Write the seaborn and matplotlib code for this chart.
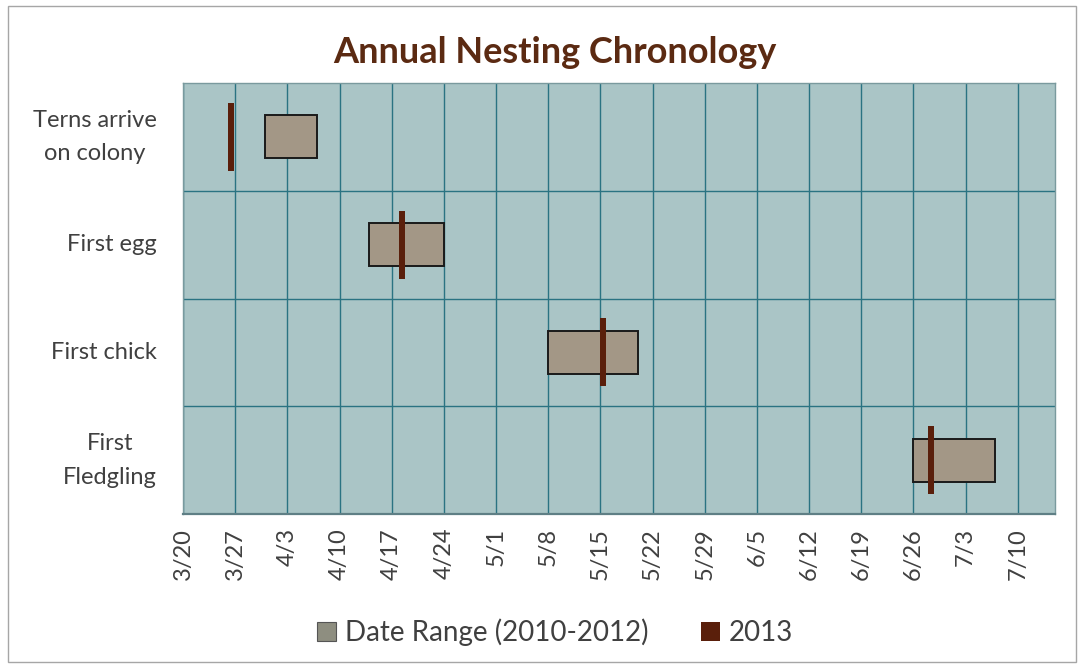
import datetime as dt
import matplotlib
matplotlib.use("Agg")
import matplotlib.pyplot as plt
import matplotlib.dates as mdates
from matplotlib.patches import Rectangle, Patch
import seaborn as sns

# Nesting events (top to bottom)
events = ["Terns arrive\non colony", "First egg", "First chick", "First\nFledgling"]
range_start = ["2013-03-31", "2013-04-14", "2013-05-08", "2013-06-26"]
range_end = ["2013-04-07", "2013-04-24", "2013-05-20", "2013-07-07"]
obs_2013 = ["2013-03-26", "2013-04-18", "2013-05-15", "2013-06-28"]

tick_dates = ["2013-03-20", "2013-03-27", "2013-04-03", "2013-04-10", "2013-04-17",
              "2013-04-24", "2013-05-01", "2013-05-08", "2013-05-15", "2013-05-22",
              "2013-05-29", "2013-06-05", "2013-06-12", "2013-06-19", "2013-06-26",
              "2013-07-03", "2013-07-10"]
x_min, x_max = "2013-03-20", "2013-07-15"

title = "Annual Nesting Chronology"
legend_labels = ["Date Range (2010-2012)", "2013"]


def to_num(s):
    return mdates.date2num(dt.datetime.strptime(s, "%Y-%m-%d"))


sns.set_theme(style="white")
plt.rcParams["font.family"] = ["Lato", "DejaVu Sans"]

BG = "#AAC5C6"
GRID = "#2A7382"
BOX = "#A39786"
MARK = "#5A1F0B"
TEXT = "#404040"

fig = plt.figure(figsize=(10.84, 6.68), dpi=100)
fig.patch.set_facecolor("white")
fig.add_artist(Rectangle((0.0075, 0.009), 0.985, 0.982, transform=fig.transFigure,
                         fill=False, edgecolor="#A6A6A6", linewidth=1.0))

ax = fig.add_axes([0.1688, 0.2305, 0.8045, 0.6452])
ax.set_facecolor(BG)

ypos = list(range(len(events)))
starts = [to_num(s) for s in range_start]
widths = [to_num(e) - to_num(s) for s, e in zip(range_start, range_end)]
marks = [to_num(s) for s in obs_2013]

ax.barh(ypos, widths, left=starts, height=0.40, color=BOX,
        edgecolor="#1A1A1A", linewidth=1.4, zorder=3)
# each 2013 date is drawn as a slim bar spanning most of that day
mark_w = 0.8
ax.barh(ypos, [mark_w] * len(marks), left=marks,
        height=0.63, color=MARK, edgecolor="none", zorder=4)

ax.set_xlim(to_num(x_min), to_num(x_max))
ax.set_ylim(len(events) - 0.5, -0.5)

ticks = [to_num(t) for t in tick_dates]
ax.set_xticks(ticks)
ax.set_xticklabels([f"{int(t[5:7])}/{int(t[8:10])}" for t in tick_dates],
                   rotation=90, fontsize=17, color=TEXT)
ax.set_yticks(ypos)
ax.set_yticklabels(events, fontsize=17, color=TEXT, linespacing=1.75)
for lbl in ax.get_yticklabels():
    lbl.set_multialignment("center")
    lbl.set_verticalalignment("center")
ax.tick_params(axis="y", length=0, pad=19)
ax.tick_params(axis="x", length=0, pad=10)

for t in ticks:
    ax.axvline(t, color=GRID, linewidth=1.0, zorder=1)
for b in [0.5, 1.5, 2.5]:
    ax.axhline(b, color=GRID, linewidth=1.0, zorder=1)
for side in ["left", "right", "top", "bottom"]:
    ax.spines[side].set_visible(True)
    ax.spines[side].set_color("#7A9A9E")
    ax.spines[side].set_linewidth(1.0)
ax.spines["bottom"].set_color("#5F7F85")
ax.spines["bottom"].set_linewidth(1.6)

fig.text(0.512, 0.922, title, ha="center", va="center", fontsize=26,
         fontweight="bold", color="#5B2A12")

handles = [Patch(facecolor="#8E8E80", edgecolor="#555555", linewidth=0.8),
           Patch(facecolor=MARK, edgecolor="none")]
fig.legend(handles, legend_labels, loc="center", bbox_to_anchor=(0.512, 0.053),
           ncol=2, frameon=False, fontsize=20, handlelength=0.7, handleheight=0.7,
           handletextpad=0.3, columnspacing=1.9, labelcolor=TEXT)

fig.savefig("out.png", dpi=100, facecolor="white")
